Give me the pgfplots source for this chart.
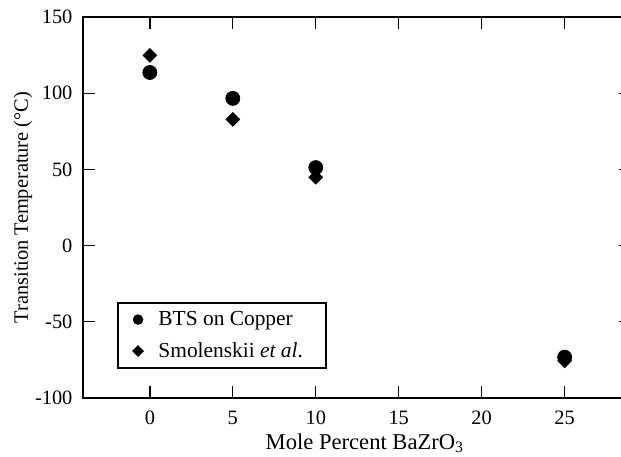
\documentclass[border=0pt]{standalone}
\usepackage{fontspec}
\setmainfont{Liberation Serif}
\usepackage{pgfplots}
\pgfplotsset{compat=1.18}

\begin{document}
\begin{tikzpicture}[font=\fontsize{10.2}{12}\selectfont]
  \begin{axis}[
    scale only axis,
    width=273.75pt, height=190.5pt,
    xmin=-4, xmax=29,
    ymin=-100, ymax=150,
    xtick={0,5,...,25},
    ytick={-100,-50,...,150},
    tick align=inside,
    major tick length=5.85pt,
    every tick/.style={black, line width=0.65pt},
    axis line style={line width=1pt},
    /pgf/number format/assume math mode=true,
    yticklabel style={xshift=-2pt},
    xticklabel style={yshift=-3pt},
    xlabel={Mole Percent BaZrO\textsubscript{3}},
    ylabel={Transition Temperature (°C)},
    xlabel style={at={(axis description cs:0.514,-0.134)}, anchor=base, font=\fontsize{11.3}{13}\selectfont},
    ylabel style={at={(axis description cs:-0.1014,0.5)}, anchor=base, rotate=0},
    legend style={at={(rel axis cs:0.0606,0.0761)}, anchor=south west,
      draw=black, line width=1pt, row sep=3pt, inner xsep=4pt, inner ysep=2pt,
      font=\fontsize{10.7}{12.5}\selectfont},
    legend cell align=left,
    legend image code/.code={
      \path[draw=none] (0pt,0pt) (14.4pt,0pt);
      \path[draw=none,only marks,mark repeat=2,mark phase=2] plot coordinates {(0pt,0pt) (6.2pt,0pt) (12.4pt,0pt)};},
  ]
    \addplot[only marks, mark=*, mark size=3.5pt, black,
      legend image post style={mark size=2.1pt}] coordinates {
      (0,113.6) (5,96.6) (10,51.2) (25,-73.2)
    };
    \addlegendentry{\makebox[78pt][l]{BTS on Copper}}
    \addplot[only marks, mark=square*, mark size=2.4pt, mark options={rotate=45}, black,
      legend image post style={mark size=1.6pt}] coordinates {
      (0,124.8) (5,82.8) (10,44.8) (25,-75.6)
    };
    \addlegendentry{\makebox[78pt][l]{Smolenskii \textit{et al}.}}
  \end{axis}
  \pgfresetboundingbox
  \path[use as bounding box] ([shift={(-41.75pt,-29pt)}]current axis.south west)
    rectangle ([shift={(268.75pt,199pt)}]current axis.south west);
\end{tikzpicture}
\end{document}
